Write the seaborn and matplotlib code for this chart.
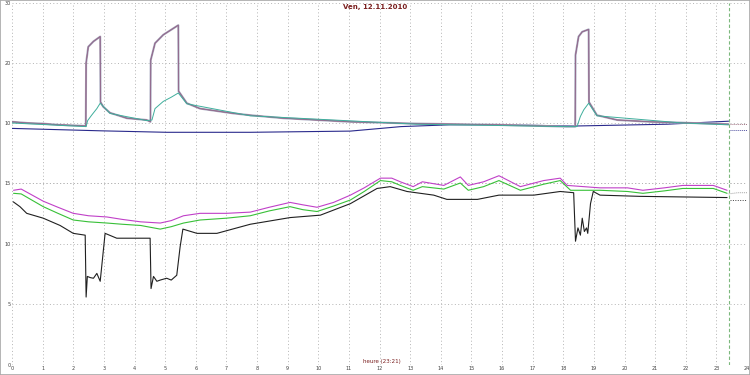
import matplotlib
matplotlib.use("Agg")
import matplotlib.pyplot as plt
from matplotlib.patches import Rectangle
from matplotlib.ticker import MultipleLocator
import seaborn as sns

# ---------------- data (hours, values) ----------------
title_text = "Ven, 12.11.2010"
xlabel_text = "heure (23:21)"
hour_ticks = list(range(0, 25))
top_yticks = [10, 20, 30]
bot_yticks = [0, 5, 10, 15]
now_hour = 23.4

# top panel: temperature bundle
t_main = [0, 0.5, 1, 1.5, 2, 2.41, 2.42, 2.49, 2.66, 2.88, 2.89, 2.98, 3.2, 3.75, 4.4, 4.52,
          4.53, 4.67, 4.94, 5.43, 5.44, 5.71, 6.14, 7.23, 7.78, 8.86, 11.05, 13.2, 15.9,
          18.1, 18.39, 18.4, 18.5, 18.62, 18.83, 18.84, 19.1, 19.76, 20.85, 21.9, 23.4]
v_main = [10.2, 10.0, 9.9, 9.7, 9.6, 9.5, 20.0, 22.7, 23.6, 24.4, 13.5, 12.7, 11.7, 10.8, 10.5, 10.2,
          20.5, 23.3, 24.7, 26.3, 15.3, 13.3, 12.4, 11.6, 11.3, 10.8, 10.2, 9.9, 9.7,
          9.4, 9.4, 21.3, 24.4, 25.2, 25.6, 13.5, 11.3, 10.5, 10.2, 10.05, 9.8]
t_main_tail = [23.45, 24.0]
v_main_tail = [9.9, 9.9]

t_teal = [0, 2, 2.42, 2.47, 2.6, 2.77, 2.88, 3.2, 4.4, 4.57, 4.67, 4.94, 5.2, 5.43, 5.71,
          7.78, 13.2, 18.1, 18.45, 18.56, 18.67, 18.83, 19.1, 21.9, 23.4]
v_teal = [10.0, 9.5, 9.4, 10.4, 11.3, 12.4, 13.3, 11.6, 10.4, 10.5, 12.4, 13.6, 14.3, 15.0, 13.2,
          11.2, 9.8, 9.4, 9.4, 11.1, 12.2, 13.3, 11.2, 10.0, 9.7]

t_navy = [0, 2.88, 5.05, 7.78, 11.05, 12.7, 14.3, 15.9, 18.4, 21.4, 23.4]
v_navy = [9.1, 8.7, 8.45, 8.45, 8.65, 9.4, 9.7, 9.7, 9.5, 9.8, 10.3]
t_navy_tail = [23.45, 24.0]
v_navy_tail = [8.8, 8.8]

# bottom panel
t_mag = [0.05, 0.3, 1.02, 1.5, 2.0, 2.5, 3.1, 3.6, 4.2, 4.84, 5.2, 5.6, 6.14, 7.0, 7.78, 8.4, 9.08,
         9.5, 9.96, 10.5, 11.05, 11.5, 12.03, 12.4, 12.68, 13.1, 13.4, 14.1, 14.64, 14.9, 15.4,
         15.9, 16.6, 17.36, 17.9, 18.13, 19.2, 20.1, 20.6, 21.3, 21.9, 22.9, 23.35]
v_mag = [14.4, 14.5, 13.5, 13.0, 12.5, 12.3, 12.2, 12.0, 11.8, 11.7, 11.9, 12.3, 12.5, 12.5, 12.6, 13.0, 13.4,
         13.2, 13.0, 13.4, 14.0, 14.6, 15.4, 15.4, 15.1, 14.7, 15.1, 14.8, 15.5, 14.8, 15.1,
         15.6, 14.7, 15.2, 15.4, 14.8, 14.6, 14.6, 14.4, 14.6, 14.8, 14.8, 14.4]
t_grn = [0.05, 0.3, 1.02, 1.5, 2.0, 2.5, 3.1, 3.6, 4.2, 4.84, 5.2, 5.6, 6.14, 7.0, 7.78, 8.4, 9.08,
         9.5, 9.96, 10.5, 11.05, 11.5, 12.03, 12.4, 12.68, 13.1, 13.4, 14.1, 14.64, 14.9, 15.4,
         15.9, 16.6, 17.36, 17.9, 18.24, 19.2, 20.1, 20.6, 21.3, 21.9, 22.9, 23.35]
v_grn = [14.15, 14.1, 13.05, 12.5, 11.95, 11.8, 11.7, 11.6, 11.5, 11.2, 11.4, 11.7, 11.95, 12.1, 12.3, 12.7, 13.05,
         12.8, 12.65, 13.1, 13.6, 14.3, 15.2, 15.1, 14.8, 14.4, 14.7, 14.5, 15.0, 14.4, 14.7,
         15.2, 14.4, 14.9, 15.2, 14.4, 14.4, 14.3, 14.15, 14.35, 14.55, 14.55, 14.15]
t_tail_light = [23.4, 23.7, 24.0]
v_tail_light = [14.1, 14.2, 14.2]

t_blk = [0.04, 0.26, 0.48, 1.02, 1.57, 2.0, 2.39, 2.42, 2.46, 2.56, 2.66, 2.77, 2.88, 3.04, 3.42,
         4.51, 4.54, 4.62, 4.73, 4.84, 5.05, 5.2, 5.38, 5.49, 5.58, 6.04, 6.69, 7.78, 9.08, 10.07,
         11.05, 11.92, 12.35, 12.9, 13.77, 14.2, 15.2, 15.9, 17.04, 17.9, 18.34, 18.4, 18.48, 18.56,
         18.62, 18.69, 18.76, 18.8, 18.89, 18.98, 19.2, 20.5, 23.35]
v_blk = [13.45, 13.05, 12.5, 12.1, 11.5, 10.85, 10.7, 5.6, 7.3, 7.2, 7.15, 7.55, 6.9, 10.85, 10.45,
         10.45, 6.3, 7.3, 6.9, 7.0, 7.15, 7.0, 7.4, 9.75, 11.2, 10.85, 10.85, 11.6, 12.15, 12.35,
         13.3, 14.55, 14.7, 14.3, 14.0, 13.65, 13.65, 14.0, 14.0, 14.3, 14.2, 10.2, 11.3, 10.7,
         12.1, 11.0, 11.3, 10.85, 13.3, 14.3, 14.0, 13.9, 13.8]
t_blk_tail = [23.45, 24.0]
v_blk_tail = [13.6, 13.6]

# ---------------- figure ----------------
sns.set_theme(style="white")
plt.rcParams['font.family'] = ['DejaVu Sans']
W, H = 750, 375
fig = plt.figure(figsize=(7.5, 3.75), dpi=100)
fig.patch.set_facecolor("white")
x0 = 12 / W
wax = 735 / W
ax_top = fig.add_axes([x0, 1 - 183 / H, wax, 180 / H])
ax_bot = fig.add_axes([x0, 1 - 365 / H, wax, 182 / H])
ax_bot.patch.set_alpha(0)

gridkw = dict(color="#b4b4b4", linestyle=(0, (1, 2.5)), linewidth=0.7)
for ax in (ax_top, ax_bot):
    ax.set_facecolor("white")
    for s in ax.spines.values():
        s.set_visible(False)
    ax.set_xlim(0, 24)
    ax.set_xticks(hour_ticks)
    ax.xaxis.set_minor_locator(MultipleLocator(0.2))
    ax.grid(True, which="major", **gridkw)
    ax.tick_params(axis="both", which="both", labelsize=3.5, colors="#707070",
                   labelcolor="#404040", length=1.5, width=0.5, pad=1, direction="in")
    ax.tick_params(axis="both", which="minor", length=1.0)

ax_top.set_ylim(0, 30)
ax_top.set_yticks(top_yticks)
ax_top.yaxis.set_minor_locator(MultipleLocator(2))
ax_top.tick_params(axis="x", which="both", labelbottom=False, length=0)

ax_bot.set_ylim(0, 15)
ax_bot.set_yticks(bot_yticks)
ax_bot.yaxis.set_minor_locator(MultipleLocator(1))
ax_bot.axhline(0, **gridkw)
ax_bot.axhline(15, **gridkw)


def line(ax, t, v, **kw):
    sns.lineplot(x=t, y=v, ax=ax, estimator=None, sort=False, legend=False, **kw)


# top panel lines
line(ax_top, t_navy, v_navy, color="#2a2a8c", linewidth=0.8)
line(ax_top, t_main, v_main, color="#a8aac0", linewidth=1.5)
line(ax_top, t_main, v_main, color="#a84a66", linewidth=0.6)
line(ax_top, t_main, v_main, color="#7a84b0", linewidth=0.4, alpha=0.8)
line(ax_top, t_teal, v_teal, color="#3fae9c", linewidth=0.7)
line(ax_top, t_main_tail, v_main_tail, color="#a07080", linewidth=0.7, linestyle=(0, (1, 1)))
line(ax_top, t_navy_tail, v_navy_tail, color="#5050a0", linewidth=0.7, linestyle=(0, (1, 1)))

# bottom panel lines (may rise slightly above 15)
line(ax_bot, t_mag, v_mag, color="#c040c8", linewidth=0.8, clip_on=False)
line(ax_bot, t_grn, v_grn, color="#38c038", linewidth=0.8, clip_on=False)
line(ax_bot, t_blk, v_blk, color="#202020", linewidth=0.8, clip_on=False)
line(ax_bot, t_tail_light, v_tail_light, color="#a0a0a0", linewidth=0.7, linestyle=(0, (1, 1)))
line(ax_bot, t_blk_tail, v_blk_tail, color="#404040", linewidth=0.7, linestyle=(0, (1, 1.5)))

for ax in (ax_top, ax_bot):
    ax.axvline(now_hour, color="#7cb87c", linestyle=(0, (3, 2)), linewidth=0.8)

fig.text(0.5, 1 - 7 / H, title_text, ha="center", va="center", fontsize=5,
         color="#7a1f1f", fontweight="bold")
fig.text(382 / W, 1 - 361 / H, xlabel_text, ha="center", va="center", fontsize=4,
         color="#7a1f1f")

fig.patches.append(Rectangle((0, 0), 1, 1, transform=fig.transFigure, fill=False,
                             edgecolor="#a8a8a8", linewidth=1.2))

fig.savefig("out.png", dpi=100, facecolor="white")
